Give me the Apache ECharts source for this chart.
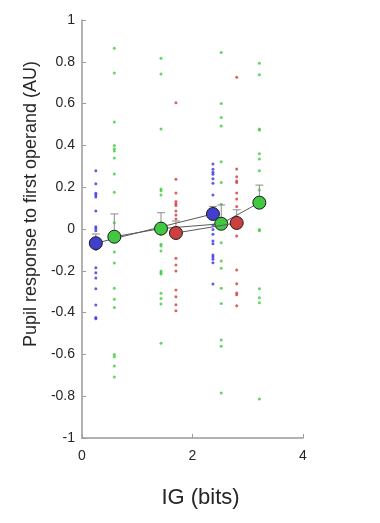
<!DOCTYPE html>
<html>
<head>
<meta charset="utf-8">
<script src="https://cdn.jsdelivr.net/npm/echarts@6/dist/echarts.min.js"></script>
<style>html,body{margin:0;padding:0;background:#fff}#c{width:380px;height:523px}</style>
</head>
<body>
<div id="c"></div>
<script>
// Condition means (x = IG bits, y = pupil response) and upper error
const blueX = [0.25, 2.37];
const blueMean = [-0.068, 0.072];
const blueErr = [0.044, 0.036];
const greenX = [0.585, 1.43, 2.52, 3.21];
const greenMean = [-0.037, 0.002, 0.025, 0.126];
const greenErr = [0.109, 0.076, 0.090, 0.084];
const redX = [1.70, 2.80];
const redMean = [-0.019, 0.029];
const redErr = [0.057, 0.063];

// Individual subject values per column
const blueDots1 = [0.279, 0.217, 0.171, 0.163, 0.153, 0.086, 0.011, 0.002, -0.008, -0.097, -0.185, -0.209, -0.234, -0.286, -0.364, -0.424, -0.429];
const greenDots1 = [0.865, 0.746, 0.512, 0.400, 0.384, 0.373, 0.340, 0.263, 0.176, 0.030, -0.110, -0.163, -0.284, -0.336, -0.376, -0.600, -0.611, -0.656, -0.708];
const greenDots2 = [0.817, 0.742, 0.478, 0.191, 0.183, 0.163, -0.025, -0.073, -0.081, -0.105, -0.201, -0.209, -0.215, -0.308, -0.333, -0.359, -0.547];
const redDots1 = [0.604, 0.238, 0.172, 0.131, 0.121, 0.112, 0.086, 0.067, 0.048, -0.140, -0.172, -0.201, -0.292, -0.324, -0.362, -0.391];
const blueDots2 = [0.311, 0.286, 0.271, 0.262, 0.241, 0.219, 0.163, 0.019, -0.002, -0.025, -0.057, -0.070, -0.124, -0.134, -0.145, -0.161, -0.263];
const greenDots3 = [0.845, 0.600, 0.533, 0.493, 0.322, 0.223, 0.118, 0.003, -0.066, -0.153, -0.188, -0.284, -0.357, -0.531, -0.561, -0.785];
const redDots2 = [0.726, 0.287, 0.250, 0.230, 0.223, 0.172, 0.144, 0.108, -0.033, -0.196, -0.262, -0.306, -0.314, -0.367];
const greenDots4 = [0.793, 0.738, 0.478, 0.474, 0.360, 0.335, 0.279, 0.187, -0.002, -0.008, -0.286, -0.329, -0.353, -0.813];

const xTicks = [0, 2, 4];
const yTicks = [-1, -0.8, -0.6, -0.4, -0.2, 0, 0.2, 0.4, 0.6, 0.8, 1];

const BLUE = '#4040cc', GREEN = '#40c840', RED = '#cc4040';
const BLUE_D = '#3535e0', GREEN_D = '#3ccc3c', RED_D = '#d03c3c';

function col(x, ys) { return ys.map(v => [x, v]); }
function pairs(xs, ys) { return xs.map((x, i) => [x, ys[i]]); }
function errs(xs, ms, es) { return xs.map((x, i) => [x, ms[i], ms[i] + es[i]]); }

const blueDots = col(blueX[0], blueDots1).concat(col(blueX[1], blueDots2));
const greenDots = col(greenX[0], greenDots1).concat(col(greenX[1], greenDots2), col(greenX[2], greenDots3), col(greenX[3], greenDots4));
const redDots = col(redX[0], redDots1).concat(col(redX[1], redDots2));
const errData = errs(blueX, blueMean, blueErr).concat(errs(greenX, greenMean, greenErr), errs(redX, redMean, redErr));

const font = 'Liberation Sans, Arial, Helvetica, sans-serif';
const chart = echarts.init(document.getElementById('c'));
const dotSeries = (data, color) => ({
  type: 'scatter', data, symbol: 'circle', symbolSize: 3, z: 1, silent: true,
  itemStyle: { color }
});
const meanSeries = (data, color, z) => ({
  type: 'line', data, symbol: 'circle', symbolSize: 13, z,
  lineStyle: { color: '#595959', width: 1 },
  itemStyle: { color, borderColor: '#1a1a1a', borderWidth: 1 }
});
chart.setOption({
  animation: false,
  grid: { left: 82, right: 77, top: 20, bottom: 85, outerBoundsMode: 'none' },
  xAxis: {
    type: 'value', min: xTicks[0], max: xTicks[xTicks.length - 1], interval: 2,
    name: 'IG (bits)', nameLocation: 'middle', nameGap: 49,
    nameTextStyle: { fontSize: 22, color: '#262626', fontFamily: font, padding: [0, 0, 0, 16] },
    axisLine: { onZero: false, lineStyle: { color: '#9a9a9a', width: 1.5 } },
    axisTick: { inside: true, length: 4, lineStyle: { color: '#9a9a9a' } },
    axisLabel: { fontSize: 14, color: '#262626', fontFamily: font, margin: 11 },
    splitLine: { show: false }
  },
  yAxis: {
    type: 'value', min: yTicks[0], max: yTicks[yTicks.length - 1], interval: 0.2,
    name: 'Pupil response to first operand (AU)', nameLocation: 'middle', nameGap: 42,
    nameTextStyle: { fontSize: 18, color: '#262626', fontFamily: font, padding: [0, 0, 0, 50] },
    axisLine: { show: true, onZero: false, lineStyle: { color: '#9a9a9a', width: 1.5 } },
    axisTick: { show: true, inside: true, length: 4, lineStyle: { color: '#9a9a9a' } },
    axisLabel: { fontSize: 14, color: '#262626', fontFamily: font, margin: 7,
      formatter: v => String(Math.round(v * 10) / 10) },
    splitLine: { show: false }
  },
  series: [
    dotSeries(blueDots, BLUE_D),
    dotSeries(greenDots, GREEN_D),
    dotSeries(redDots, RED_D),
    {
      type: 'custom', data: errData, z: 2, silent: true,
      renderItem: function (params, api) {
        const p0 = api.coord([api.value(0), api.value(1)]);
        const p1 = api.coord([api.value(0), api.value(2)]);
        const st = { stroke: '#8c8c8c', lineWidth: 1 };
        return { type: 'group', children: [
          { type: 'line', shape: { x1: p0[0], y1: p0[1], x2: p1[0], y2: p1[1] }, style: st },
          { type: 'line', shape: { x1: p1[0] - 4, y1: p1[1], x2: p1[0] + 4, y2: p1[1] }, style: st }
        ] };
      }
    },
    meanSeries(pairs(blueX, blueMean), BLUE, 3),
    meanSeries(pairs(greenX, greenMean), GREEN, 4),
    meanSeries(pairs(redX, redMean), RED, 5)
  ]
});
</script>
</body>
</html>
